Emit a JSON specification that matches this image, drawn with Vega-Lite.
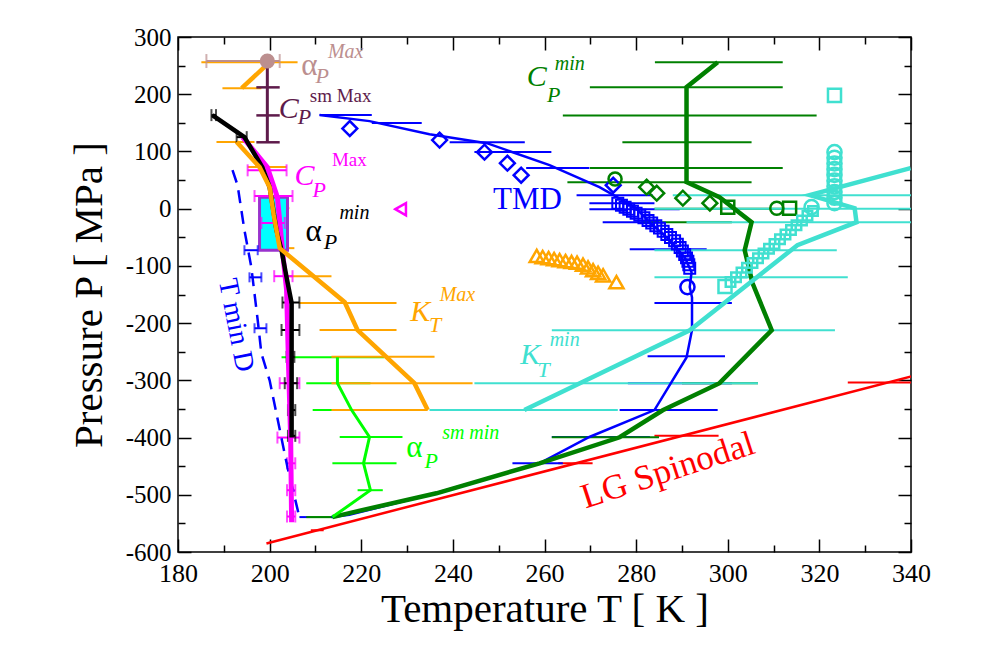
{
"$schema": "https://vega.github.io/schema/vega-lite/v6.json",
"width": 733, "height": 515,
"autosize": {"type": "none"},
"padding": {"left": 178, "top": 37, "right": 83, "bottom": 99},
"background": "white",
"config": {"font": "Liberation Serif", "view": {"stroke": "black", "strokeWidth": 1.5}, "axis": {"grid": false, "domain": false, "labelFont": "Liberation Serif", "titleFont": "Liberation Serif"}, "text": {"font": "Liberation Serif"}},
"resolve": {"axis": {"x": "independent", "y": "independent"}},
"datasets": {
"spin": [{"i":1,"T":199.3,"P":-585},{"i":2,"T":345,"P":-283}],
"spinErr": [{"P":-562,"lo":209.0,"hi":211.8},{"P":-445,"lo":263,"hi":270.5},{"P":-397,"lo":284,"hi":298},{"P":-304,"lo":326.2,"hi":344}],
"tmd": [{"i":1,"T":210.9,"P":163.5},{"i":2,"T":221.8,"P":153},{"i":3,"T":234.9,"P":130},{"i":4,"T":247.4,"P":114.5},{"i":5,"T":261.1,"P":76},{"i":6,"T":272,"P":37.6},{"i":7,"T":277,"P":14.9},{"i":8,"T":279.7,"P":2.6},{"i":9,"T":283,"P":-23.6},{"i":10,"T":287.3,"P":-55},{"i":11,"T":290.6,"P":-85},{"i":12,"T":292.1,"P":-111},{"i":13,"T":291.7,"P":-137},{"i":14,"T":292.2,"P":-155},{"i":15,"T":292.2,"P":-212},{"i":16,"T":291,"P":-260},{"i":17,"T":284,"P":-352},{"i":18,"T":269.8,"P":-399},{"i":19,"T":258.9,"P":-445},{"i":20,"T":236.4,"P":-497},{"i":21,"T":217.4,"P":-535},{"i":22,"T":213.5,"P":-539}],
"tmdErr": [{"P":163.5,"lo":210.9,"hi":222.3},{"P":149.5,"lo":222.3,"hi":233.2},{"P":116,"lo":239.3,"hi":255.7},{"P":99,"lo":244.7,"hi":261.5},{"P":71,"lo":256,"hi":269.8},{"P":23.6,"lo":267,"hi":283.6},{"P":9.6,"lo":269.8,"hi":284},{"P":-1,"lo":269.8,"hi":289.5},{"P":-23.6,"lo":272.7,"hi":285},{"P":-71,"lo":278.6,"hi":295.4},{"P":-165,"lo":284,"hi":300.9},{"P":-258,"lo":282.5,"hi":299.4},{"P":-305,"lo":278.2,"hi":300.9},{"P":-352,"lo":276.4,"hi":297.8},{"P":-399,"lo":261.6,"hi":283},{"P":-445,"lo":253,"hi":264},{"P":-539,"lo":206.5,"hi":208.8}],
"tmdDiam": [{"T":217.5,"P":140},{"T":237.1,"P":119.8},{"T":246.9,"P":98.8},{"T":251.9,"P":79.5},{"T":254.9,"P":58.5},{"T":275,"P":41}],
"tmdSq": [{"T":276.0,"P":9.6},{"T":276.8,"P":6.1},{"T":277.6,"P":2.6},{"T":278.4,"P":-0.9},{"T":279.2,"P":-4.4},{"T":280.0,"P":-7.9},{"T":280.8,"P":-11.4},{"T":281.7,"P":-16.0},{"T":282.6,"P":-20.6},{"T":283.4,"P":-25.2},{"T":284.3,"P":-29.8},{"T":285.1,"P":-34},{"T":285.9,"P":-39.5},{"T":286.7,"P":-45},{"T":287.5,"P":-50.5},{"T":288.4,"P":-56},{"T":289.0,"P":-62},{"T":289.6,"P":-68},{"T":290.1,"P":-74},{"T":290.6,"P":-80},{"T":291.0,"P":-86},{"T":291.3,"P":-92},{"T":291.5,"P":-98},{"T":291.7,"P":-104}],
"tmdCirc": [{"T":291.2,"P":-137}],
"tminD": [{"i":1,"T":191.9,"P":67.3},{"i":2,"T":193.0,"P":41},{"i":3,"T":194.5,"P":-37.6},{"i":4,"T":196,"P":-102},{"i":5,"T":197.4,"P":-195},{"i":6,"T":198.2,"P":-253},{"i":7,"T":200,"P":-300},{"i":8,"T":203.9,"P":-452},{"i":9,"T":206.5,"P":-539}],
"tminDErr": [{"P":-72.6,"lo":194.5,"hi":197.4},{"P":-120,"lo":195.6,"hi":198.2},{"P":-209,"lo":196.7,"hi":199.3}],
"aMin": [{"i":1,"T":187.5,"P":163.5},{"i":2,"T":194.5,"P":125},{"i":3,"T":198.4,"P":72.6},{"i":4,"T":200,"P":37.6},{"i":5,"T":201.5,"P":-37.6},{"i":6,"T":202.6,"P":-72.6},{"i":7,"T":203.7,"P":-120},{"i":8,"T":204.8,"P":-165},{"i":9,"T":204.8,"P":-265},{"i":10,"T":204.8,"P":-400}],
"aMinErr": [{"P":163.5,"lo":187.3,"hi":188.3},{"P":125,"lo":192.8,"hi":195},{"P":-164,"lo":202.8,"hi":206.5},{"P":-212,"lo":202.6,"hi":206.5},{"P":-259,"lo":203.7,"hi":205.4},{"P":-305,"lo":203.3,"hi":206},{"P":-352,"lo":204,"hi":205.6},{"P":-397,"lo":204,"hi":205.6}],
"cpMax": [{"i":1,"T":194.1,"P":125},{"i":2,"T":199.5,"P":72.6},{"i":3,"T":201.7,"P":20},{"i":4,"T":202.8,"P":-72.6},{"i":5,"T":203.7,"P":-142},{"i":6,"T":204.1,"P":-265},{"i":7,"T":204.6,"P":-405},{"i":8,"T":204.8,"P":-548}],
"cpMaxErr": [{"P":67,"lo":195.2,"hi":203.7},{"P":22,"lo":196.7,"hi":205},{"P":-25,"lo":198.2,"hi":203.3},{"P":-118,"lo":201,"hi":205},{"P":-305,"lo":202.2,"hi":206.5},{"P":-400,"lo":201.7,"hi":206.5},{"P":-445,"lo":203.8,"hi":205.6},{"P":-492,"lo":203.8,"hi":205.6},{"P":-538,"lo":203.8,"hi":205.6}],
"cpMaxTri": [{"T":228.6,"P":-0.9}],
"rect": [{"lo":197.8,"hi":203.9,"P":20.1,"P2":-72.6}],
"ktMax": [{"seg":"a","i":1,"T":200,"P":256},{"seg":"a","i":2,"T":193.9,"P":210.5},{"seg":"b","i":3,"T":192.8,"P":116.4},{"seg":"b","i":4,"T":197.8,"P":72.6},{"seg":"b","i":5,"T":200,"P":37.6},{"seg":"b","i":6,"T":200.9,"P":-11.4},{"seg":"b","i":7,"T":202.2,"P":-69},{"seg":"b","i":8,"T":216.4,"P":-163.5},{"seg":"b","i":9,"T":219.2,"P":-212.4},{"seg":"b","i":10,"T":231.6,"P":-305},{"seg":"b","i":11,"T":234.5,"P":-352}],
"ktMaxErr": [{"P":256,"lo":185.1,"hi":206.1},{"P":210.5,"lo":189.7,"hi":198.2},{"P":116.4,"lo":188.4,"hi":196.7},{"P":72.6,"lo":195.2,"hi":203.7},{"P":0.9,"lo":200,"hi":204.3},{"P":-25,"lo":200,"hi":203.7},{"P":-69,"lo":202.2,"hi":205.4},{"P":-118,"lo":203.7,"hi":213.5},{"P":-165,"lo":206.5,"hi":227.7},{"P":-212,"lo":210.9,"hi":227.7},{"P":-259,"lo":213.5,"hi":236},{"P":-305,"lo":213.5,"hi":244.3},{"P":-352,"lo":213.5,"hi":234.5}],
"ktMaxTri": [{"T":258.3,"P":-82.7},{"T":259.6,"P":-84.5},{"T":260.9,"P":-86.3},{"T":262.1,"P":-88.1},{"T":263.3,"P":-89.9},{"T":264.6,"P":-91.5},{"T":265.9,"P":-93.2},{"T":267.1,"P":-94.5},{"T":268.4,"P":-98},{"T":269.5,"P":-102.6},{"T":270.6,"P":-107.5},{"T":271.7,"P":-112},{"T":272.8,"P":-116.5},{"T":275.7,"P":-128.5}],
"aMaxPt": [{"T":199.5,"P":258}],
"aMaxErr": [{"P":258,"lo":186.2,"hi":202.2}],
"cpSm": [{"i":1,"T":199.5,"P":256},{"i":2,"T":199.5,"P":116}],
"cpSmErr": [{"P":212,"lo":197.1,"hi":202.2},{"P":163,"lo":197.1,"hi":202.2},{"P":116,"lo":197.1,"hi":202.2}],
"aSm": [{"i":1,"T":214.8,"P":-259.6},{"i":2,"T":214.8,"P":-305},{"i":3,"T":217.9,"P":-352},{"i":4,"T":221.8,"P":-399},{"i":5,"T":220.5,"P":-445},{"i":6,"T":222,"P":-492},{"i":7,"T":213.7,"P":-539}],
"aSmErr": [{"P":-259.6,"lo":202.6,"hi":225},{"P":-305,"lo":208,"hi":222},{"P":-352,"lo":209.4,"hi":226},{"P":-399,"lo":215.3,"hi":229},{"P":-445,"lo":213.7,"hi":227.7},{"P":-492,"lo":219.2,"hi":224.7},{"P":-539,"lo":208.8,"hi":213.7}],
"cpMin": [{"i":1,"T":297.8,"P":256},{"i":2,"T":291.0,"P":212.4},{"i":3,"T":291.0,"P":46.3},{"i":4,"T":298.2,"P":20.1},{"i":5,"T":305.2,"P":-23.6},{"i":6,"T":303.7,"P":-72.6},{"i":7,"T":305.4,"P":-130},{"i":8,"T":309.6,"P":-212.4},{"i":9,"T":298.2,"P":-305},{"i":10,"T":285.8,"P":-352.3},{"i":11,"T":276.4,"P":-399.5},{"i":12,"T":258.9,"P":-445},{"i":13,"T":236.4,"P":-497.4},{"i":14,"T":217.4,"P":-532},{"i":15,"T":213.7,"P":-539}],
"cpMinErr": [{"P":256,"lo":284.1,"hi":312},{"P":212,"lo":269.9,"hi":312},{"P":163,"lo":264,"hi":319.4},{"P":116,"lo":277,"hi":305.2},{"P":71,"lo":269.9,"hi":312},{"P":46,"lo":265,"hi":305.2},{"P":0,"lo":284,"hi":312},{"P":-23.6,"lo":281.2,"hi":300.9},{"P":-305,"lo":290,"hi":306.6},{"P":-399.5,"lo":261.6,"hi":285},{"P":-539,"lo":208,"hi":214}],
"cpMinDiam": [{"T":282.3,"P":37.6},{"T":284.5,"P":27.1},{"T":290.2,"P":18.4},{"T":296.1,"P":9.6}],
"cpMinSq": [{"T":300,"P":2.6},{"T":313.5,"P":0.9}],
"cpMinCirc": [{"T":275.4,"P":52},{"T":310.7,"P":0.9}],
"ktMin": [{"i":1,"T":255.6,"P":-352},{"i":2,"T":291.7,"P":-212.4},{"i":3,"T":315.2,"P":-63.8},{"i":4,"T":328.1,"P":-23.6},{"i":5,"T":327.7,"P":0.9},{"i":6,"T":317.9,"P":23.6},{"i":7,"T":339.9,"P":70.8}],
"ktMinErr": [{"P":23.6,"lo":288,"hi":345},{"P":0,"lo":284,"hi":345},{"P":-23.6,"lo":291,"hi":345},{"P":-72.6,"lo":284,"hi":323.8},{"P":-120,"lo":284,"hi":326.2},{"P":-212.4,"lo":261.6,"hi":323.4},{"P":-305,"lo":244.7,"hi":306.6},{"P":-352,"lo":234.9,"hi":276}],
"ktMinSqBig": [{"T":323.3,"P":198},{"T":299.4,"P":-136}],
"ktMinSq": [{"T":318.6,"P":-4},{"T":317.4,"P":-12.3},{"T":316.2,"P":-20.5},{"T":315.0,"P":-28.8},{"T":313.8,"P":-37.1},{"T":312.6,"P":-45.3},{"T":311.4,"P":-53.6},{"T":310.2,"P":-61.9},{"T":309.0,"P":-70.1},{"T":307.8,"P":-78.4},{"T":306.6,"P":-86.7},{"T":305.4,"P":-94.9},{"T":304.2,"P":-103.2},{"T":303.0,"P":-111.5},{"T":301.8,"P":-119.7},{"T":300.6,"P":-128}],
"ktMinCirc": [{"T":323.3,"P":98.8},{"T":323.3,"P":89},{"T":323.3,"P":79},{"T":323.3,"P":69},{"T":323.3,"P":59},{"T":323.3,"P":49},{"T":323.3,"P":39},{"T":323.3,"P":29},{"T":323.3,"P":19},{"T":323.3,"P":9.6},{"T":318.3,"P":2.6}],
"labMain": [{"s":"cpSm","t":"C","T":204.2,"P":174},{"s":"cpMax","t":"C","T":207.6,"P":57},{"s":"cpMin","t":"C","T":258.3,"P":230},{"s":"ktMax","t":"K","T":232.9,"P":-181},{"s":"ktMin","t":"K","T":256.9,"P":-256}],
"labAlpha": [{"s":"aMax","t":"α","T":208.7,"P":250},{"s":"aMin","t":"α","T":209.6,"P":-41},{"s":"aSm","t":"α","T":231.6,"P":-418.7}],
"labSub": [{"s":"aMax","t":"P","T":211.5,"P":232},{"s":"cpSm","t":"P","T":207.6,"P":161},{"s":"cpMax","t":"P","T":210.8,"P":32.3},{"s":"aMin","t":"P","T":213.3,"P":-58.6},{"s":"ktMax","t":"T","T":236.1,"P":-203.7},{"s":"ktMin","t":"T","T":259.8,"P":-282},{"s":"aSm","t":"P","T":235.3,"P":-441.4},{"s":"cpMin","t":"P","T":262.0,"P":198.4}],
"labSupI": [{"s":"aMax","t":"Max","T":216.6,"P":273.6},{"s":"aMin","t":"min","T":218.5,"P":-7.9},{"s":"ktMax","t":"Max","T":241.0,"P":-151.2},{"s":"ktMin","t":"min","T":264.4,"P":-229.9},{"s":"aSm","t":"sm min","T":243.9,"P":-392.5},{"s":"cpMin","t":"min","T":265.5,"P":252.6}],
"labSupU": [{"s":"cpSm","t":"sm Max","T":215.5,"P":196.7},{"s":"cpMax","t":"Max","T":217.4,"P":84.8}],
"labTMD": [{"t":"TMD","T":256.3,"P":14.9}],
"labTminD": [{"t":"T min D","T":192.6,"P":-203.7}],
"labSpin": [{"t":"LG Spinodal","T":286.9,"P":-457}]
},
"layer": [
{"data":{"name":"spin"},"mark":{"type":"line","color":"#ff0000","strokeWidth":2.5,"clip":true},
 "encoding":{"x":{"field":"T","type":"quantitative","scale":{"domain":[180,340],"nice":false,"zero":false},
   "axis":{"orient":"bottom","values":[180,200,220,240,260,280,300,320,340],"ticks":false,"labelFont":"Liberation Serif","labelFontSize":26,"labelColor":"#000000","labelPadding":8,"labelFlush":false,"labelOverlap":false,"title":"Temperature T [ K ]","titleFont":"Liberation Serif","titleFontSize":41,"titleFontWeight":"normal","titleColor":"#000000","titlePadding":3}},
  "y":{"field":"P","type":"quantitative","scale":{"domain":[-600,300],"nice":false,"zero":false},
   "axis":{"orient":"left","values":[-600,-500,-400,-300,-200,-100,0,100,200,300],"ticks":false,"labelExpr":"datum.value < 0 ? '-' + abs(datum.value) : '' + datum.value","labelFont":"Liberation Serif","labelFontSize":25,"labelColor":"#000000","labelPadding":7,"labelFlush":false,"labelOverlap":false,"title":"Pressure P [ MPa ]","titleFont":"Liberation Serif","titleFontSize":41,"titleFontWeight":"normal","titleColor":"#000000","titlePadding":15}},
  "order":{"field":"i"}}},
{"data":{"name":"spinErr"},"mark":{"type":"rule","color":"#ff0000","strokeWidth":2,"clip":true},
 "encoding":{"x":{"field":"lo","type":"quantitative","scale":{"domain":[180,340],"nice":false,"zero":false},
   "axis":{"orient":"bottom","values":[180,200,220,240,260,280,300,320,340],"labels":false,"tickSize":-13,"tickWidth":1.5,"tickColor":"#000000","title":null}},
  "x2":{"field":"hi"},
  "y":{"field":"P","type":"quantitative","scale":{"domain":[-600,300],"nice":false,"zero":false},
   "axis":{"orient":"left","values":[-600,-500,-400,-300,-200,-100,0,100,200,300],"labels":false,"tickSize":-13,"tickWidth":1.5,"tickColor":"#000000","title":null}}}},
{"data":{"name":"tmdErr"},"mark":{"type":"rule","color":"#0000ff","strokeWidth":2,"clip":true},
 "encoding":{"x":{"field":"lo","type":"quantitative","scale":{"domain":[180,340],"nice":false,"zero":false},
   "axis":{"orient":"bottom","values":[190,210,230,250,270,290,310,330],"labels":false,"tickSize":-7,"tickWidth":1.5,"tickColor":"#000000","title":null}},
  "x2":{"field":"hi"},
  "y":{"field":"P","type":"quantitative","scale":{"domain":[-600,300],"nice":false,"zero":false},
   "axis":{"orient":"left","values":[-550,-450,-350,-250,-150,-50,50,150,250],"labels":false,"tickSize":-7,"tickWidth":1.5,"tickColor":"#000000","title":null}}}},
{"data":{"name":"aSmErr"},"mark":{"type":"rule","color":"#00ff00","strokeWidth":2,"clip":true},
 "encoding":{"x":{"field":"lo","type":"quantitative","scale":{"domain":[180,340],"nice":false,"zero":false},
   "axis":{"orient":"top","values":[180,200,220,240,260,280,300,320,340],"labels":false,"tickSize":-13,"tickWidth":1.5,"tickColor":"#000000","title":null}},
  "x2":{"field":"hi"},
  "y":{"field":"P","type":"quantitative","scale":{"domain":[-600,300],"nice":false,"zero":false},
   "axis":{"orient":"right","values":[-600,-500,-400,-300,-200,-100,0,100,200,300],"labels":false,"tickSize":-13,"tickWidth":1.5,"tickColor":"#000000","title":null}}}},
{"data":{"name":"ktMaxErr"},"mark":{"type":"rule","color":"#ffa500","strokeWidth":2,"clip":true},
 "encoding":{"x":{"field":"lo","type":"quantitative","scale":{"domain":[180,340],"nice":false,"zero":false},
   "axis":{"orient":"top","values":[190,210,230,250,270,290,310,330],"labels":false,"tickSize":-7,"tickWidth":1.5,"tickColor":"#000000","title":null}},
  "x2":{"field":"hi"},
  "y":{"field":"P","type":"quantitative","scale":{"domain":[-600,300],"nice":false,"zero":false},
   "axis":{"orient":"right","values":[-550,-450,-350,-250,-150,-50,50,150,250],"labels":false,"tickSize":-7,"tickWidth":1.5,"tickColor":"#000000","title":null}}}},
{"data":{"name":"cpMinErr"},"mark":{"type":"rule","color":"#008000","strokeWidth":2,"clip":true},
 "encoding":{"x":{"field":"lo","type":"quantitative","scale":{"domain":[180,340],"nice":false,"zero":false},"axis":null},"x2":{"field":"hi"},
  "y":{"field":"P","type":"quantitative","scale":{"domain":[-600,300],"nice":false,"zero":false},"axis":null}}},
{"data":{"name":"ktMinErr"},"mark":{"type":"rule","color":"#40e0d0","strokeWidth":2,"clip":true},
 "encoding":{"x":{"field":"lo","type":"quantitative","scale":{"domain":[180,340],"nice":false,"zero":false},"axis":null},"x2":{"field":"hi"},
  "y":{"field":"P","type":"quantitative","scale":{"domain":[-600,300],"nice":false,"zero":false},"axis":null}}},
{"data":{"name":"cpSmErr"},"mark":{"type":"rule","color":"#5e1b4b","strokeWidth":2.5},
 "encoding":{"x":{"field":"lo","type":"quantitative","scale":{"domain":[180,340],"nice":false,"zero":false},"axis":null},"x2":{"field":"hi"},
  "y":{"field":"P","type":"quantitative","scale":{"domain":[-600,300],"nice":false,"zero":false},"axis":null}}},
{"data":{"name":"rect"},"mark":{"type":"rect","fill":"#00ffff","stroke":"#9a32cd","strokeWidth":3},
 "encoding":{"x":{"field":"lo","type":"quantitative","scale":{"domain":[180,340],"nice":false,"zero":false},"axis":null},"x2":{"field":"hi"},
  "y":{"field":"P","type":"quantitative","scale":{"domain":[-600,300],"nice":false,"zero":false},"axis":null},"y2":{"field":"P2"}}},
{"data":{"name":"cpMaxErr"},"mark":{"type":"rule","color":"#ff00ff","strokeWidth":2},
 "encoding":{"x":{"field":"lo","type":"quantitative","scale":{"domain":[180,340],"nice":false,"zero":false},"axis":null},"x2":{"field":"hi"},
  "y":{"field":"P","type":"quantitative","scale":{"domain":[-600,300],"nice":false,"zero":false},"axis":null}}},
{"data":{"name":"cpMaxErr"},"transform":[{"fold":["lo","hi"],"as":["k","v"]}],"mark":{"type":"tick","orient":"vertical","color":"#ff00ff","size":12,"thickness":2},
 "encoding":{"x":{"field":"v","type":"quantitative","scale":{"domain":[180,340],"nice":false,"zero":false},"axis":null},
  "y":{"field":"P","type":"quantitative","scale":{"domain":[-600,300],"nice":false,"zero":false},"axis":null}}},
{"data":{"name":"aMinErr"},"mark":{"type":"rule","color":"#000000","strokeWidth":2},
 "encoding":{"x":{"field":"lo","type":"quantitative","scale":{"domain":[180,340],"nice":false,"zero":false},"axis":null},"x2":{"field":"hi"},
  "y":{"field":"P","type":"quantitative","scale":{"domain":[-600,300],"nice":false,"zero":false},"axis":null}}},
{"data":{"name":"aMinErr"},"transform":[{"fold":["lo","hi"],"as":["k","v"]}],"mark":{"type":"tick","orient":"vertical","color":"#000000","size":12,"thickness":2},
 "encoding":{"x":{"field":"v","type":"quantitative","scale":{"domain":[180,340],"nice":false,"zero":false},"axis":null},
  "y":{"field":"P","type":"quantitative","scale":{"domain":[-600,300],"nice":false,"zero":false},"axis":null}}},
{"data":{"name":"tminDErr"},"mark":{"type":"rule","color":"#0000ff","strokeWidth":2},
 "encoding":{"x":{"field":"lo","type":"quantitative","scale":{"domain":[180,340],"nice":false,"zero":false},"axis":null},"x2":{"field":"hi"},
  "y":{"field":"P","type":"quantitative","scale":{"domain":[-600,300],"nice":false,"zero":false},"axis":null}}},
{"data":{"name":"tminDErr"},"transform":[{"fold":["lo","hi"],"as":["k","v"]}],"mark":{"type":"tick","orient":"vertical","color":"#0000ff","size":10,"thickness":2},
 "encoding":{"x":{"field":"v","type":"quantitative","scale":{"domain":[180,340],"nice":false,"zero":false},"axis":null},
  "y":{"field":"P","type":"quantitative","scale":{"domain":[-600,300],"nice":false,"zero":false},"axis":null}}},
{"data":{"name":"aMaxErr"},"mark":{"type":"rule","color":"#bc8f8f","strokeWidth":2},
 "encoding":{"x":{"field":"lo","type":"quantitative","scale":{"domain":[180,340],"nice":false,"zero":false},"axis":null},"x2":{"field":"hi"},
  "y":{"field":"P","type":"quantitative","scale":{"domain":[-600,300],"nice":false,"zero":false},"axis":null}}},
{"data":{"name":"aMaxErr"},"transform":[{"fold":["lo","hi"],"as":["k","v"]}],"mark":{"type":"tick","orient":"vertical","color":"#bc8f8f","size":14,"thickness":2},
 "encoding":{"x":{"field":"v","type":"quantitative","scale":{"domain":[180,340],"nice":false,"zero":false},"axis":null},
  "y":{"field":"P","type":"quantitative","scale":{"domain":[-600,300],"nice":false,"zero":false},"axis":null}}},
{"data":{"name":"tmd"},"mark":{"type":"line","color":"#0000ff","strokeWidth":2.5},
 "encoding":{"x":{"field":"T","type":"quantitative","scale":{"domain":[180,340],"nice":false,"zero":false},"axis":null},
  "y":{"field":"P","type":"quantitative","scale":{"domain":[-600,300],"nice":false,"zero":false},"axis":null},"order":{"field":"i"}}},
{"data":{"name":"tminD"},"mark":{"type":"line","color":"#0000ff","strokeWidth":2.5,"strokeDash":[13,8]},
 "encoding":{"x":{"field":"T","type":"quantitative","scale":{"domain":[180,340],"nice":false,"zero":false},"axis":null},
  "y":{"field":"P","type":"quantitative","scale":{"domain":[-600,300],"nice":false,"zero":false},"axis":null},"order":{"field":"i"}}},
{"data":{"name":"cpMin"},"mark":{"type":"line","color":"#008000","strokeWidth":4.5},
 "encoding":{"x":{"field":"T","type":"quantitative","scale":{"domain":[180,340],"nice":false,"zero":false},"axis":null},
  "y":{"field":"P","type":"quantitative","scale":{"domain":[-600,300],"nice":false,"zero":false},"axis":null},"order":{"field":"i"}}},
{"data":{"name":"ktMin"},"mark":{"type":"line","color":"#40e0d0","strokeWidth":4.5,"clip":true},
 "encoding":{"x":{"field":"T","type":"quantitative","scale":{"domain":[180,340],"nice":false,"zero":false},"axis":null},
  "y":{"field":"P","type":"quantitative","scale":{"domain":[-600,300],"nice":false,"zero":false},"axis":null},"order":{"field":"i"}}},
{"data":{"name":"aSm"},"mark":{"type":"line","color":"#00ff00","strokeWidth":3},
 "encoding":{"x":{"field":"T","type":"quantitative","scale":{"domain":[180,340],"nice":false,"zero":false},"axis":null},
  "y":{"field":"P","type":"quantitative","scale":{"domain":[-600,300],"nice":false,"zero":false},"axis":null},"order":{"field":"i"}}},
{"data":{"name":"cpMax"},"mark":{"type":"line","color":"#ff00ff","strokeWidth":5},
 "encoding":{"x":{"field":"T","type":"quantitative","scale":{"domain":[180,340],"nice":false,"zero":false},"axis":null},
  "y":{"field":"P","type":"quantitative","scale":{"domain":[-600,300],"nice":false,"zero":false},"axis":null},"order":{"field":"i"}}},
{"data":{"name":"aMin"},"mark":{"type":"line","color":"#000000","strokeWidth":4.5},
 "encoding":{"x":{"field":"T","type":"quantitative","scale":{"domain":[180,340],"nice":false,"zero":false},"axis":null},
  "y":{"field":"P","type":"quantitative","scale":{"domain":[-600,300],"nice":false,"zero":false},"axis":null},"order":{"field":"i"}}},
{"data":{"name":"ktMax"},"mark":{"type":"line","color":"#ffa500","strokeWidth":4.5},
 "encoding":{"x":{"field":"T","type":"quantitative","scale":{"domain":[180,340],"nice":false,"zero":false},"axis":null},
  "y":{"field":"P","type":"quantitative","scale":{"domain":[-600,300],"nice":false,"zero":false},"axis":null},"order":{"field":"i"},"detail":{"field":"seg"}}},
{"data":{"name":"cpSm"},"mark":{"type":"line","color":"#5e1b4b","strokeWidth":3},
 "encoding":{"x":{"field":"T","type":"quantitative","scale":{"domain":[180,340],"nice":false,"zero":false},"axis":null},
  "y":{"field":"P","type":"quantitative","scale":{"domain":[-600,300],"nice":false,"zero":false},"axis":null},"order":{"field":"i"}}},
{"data":{"name":"aMaxPt"},"mark":{"type":"point","shape":"circle","filled":true,"color":"#bc8f8f","size":230,"opacity":1},
 "encoding":{"x":{"field":"T","type":"quantitative","scale":{"domain":[180,340],"nice":false,"zero":false},"axis":null},
  "y":{"field":"P","type":"quantitative","scale":{"domain":[-600,300],"nice":false,"zero":false},"axis":null}}},
{"data":{"name":"tmdDiam"},"mark":{"type":"point","shape":"diamond","filled":false,"color":"#0000ff","size":220,"strokeWidth":2.5,"opacity":1},
 "encoding":{"x":{"field":"T","type":"quantitative","scale":{"domain":[180,340],"nice":false,"zero":false},"axis":null},
  "y":{"field":"P","type":"quantitative","scale":{"domain":[-600,300],"nice":false,"zero":false},"axis":null}}},
{"data":{"name":"tmdSq"},"mark":{"type":"point","shape":"square","filled":false,"color":"#0000ff","size":120,"strokeWidth":2,"opacity":1},
 "encoding":{"x":{"field":"T","type":"quantitative","scale":{"domain":[180,340],"nice":false,"zero":false},"axis":null},
  "y":{"field":"P","type":"quantitative","scale":{"domain":[-600,300],"nice":false,"zero":false},"axis":null}}},
{"data":{"name":"tmdCirc"},"mark":{"type":"point","shape":"circle","filled":false,"color":"#0000ff","size":200,"strokeWidth":2.5,"opacity":1},
 "encoding":{"x":{"field":"T","type":"quantitative","scale":{"domain":[180,340],"nice":false,"zero":false},"axis":null},
  "y":{"field":"P","type":"quantitative","scale":{"domain":[-600,300],"nice":false,"zero":false},"axis":null}}},
{"data":{"name":"cpMaxTri"},"mark":{"type":"point","shape":"triangle-left","filled":false,"color":"#ff00ff","size":150,"strokeWidth":2.5,"opacity":1},
 "encoding":{"x":{"field":"T","type":"quantitative","scale":{"domain":[180,340],"nice":false,"zero":false},"axis":null},
  "y":{"field":"P","type":"quantitative","scale":{"domain":[-600,300],"nice":false,"zero":false},"axis":null}}},
{"data":{"name":"ktMaxTri"},"mark":{"type":"point","shape":"triangle-up","filled":false,"color":"#ffa500","size":200,"strokeWidth":2.5,"opacity":1},
 "encoding":{"x":{"field":"T","type":"quantitative","scale":{"domain":[180,340],"nice":false,"zero":false},"axis":null},
  "y":{"field":"P","type":"quantitative","scale":{"domain":[-600,300],"nice":false,"zero":false},"axis":null}}},
{"data":{"name":"cpMinDiam"},"mark":{"type":"point","shape":"diamond","filled":false,"color":"#008000","size":220,"strokeWidth":2.5,"opacity":1},
 "encoding":{"x":{"field":"T","type":"quantitative","scale":{"domain":[180,340],"nice":false,"zero":false},"axis":null},
  "y":{"field":"P","type":"quantitative","scale":{"domain":[-600,300],"nice":false,"zero":false},"axis":null}}},
{"data":{"name":"cpMinSq"},"mark":{"type":"point","shape":"square","filled":false,"color":"#008000","size":170,"strokeWidth":2.5,"opacity":1},
 "encoding":{"x":{"field":"T","type":"quantitative","scale":{"domain":[180,340],"nice":false,"zero":false},"axis":null},
  "y":{"field":"P","type":"quantitative","scale":{"domain":[-600,300],"nice":false,"zero":false},"axis":null}}},
{"data":{"name":"cpMinCirc"},"mark":{"type":"point","shape":"circle","filled":false,"color":"#008000","size":170,"strokeWidth":2.5,"opacity":1},
 "encoding":{"x":{"field":"T","type":"quantitative","scale":{"domain":[180,340],"nice":false,"zero":false},"axis":null},
  "y":{"field":"P","type":"quantitative","scale":{"domain":[-600,300],"nice":false,"zero":false},"axis":null}}},
{"data":{"name":"ktMinSq"},"mark":{"type":"point","shape":"square","filled":false,"color":"#40e0d0","size":90,"strokeWidth":2.5,"opacity":1},
 "encoding":{"x":{"field":"T","type":"quantitative","scale":{"domain":[180,340],"nice":false,"zero":false},"axis":null},
  "y":{"field":"P","type":"quantitative","scale":{"domain":[-600,300],"nice":false,"zero":false},"axis":null}}},
{"data":{"name":"ktMinSqBig"},"mark":{"type":"point","shape":"square","filled":false,"color":"#40e0d0","size":170,"strokeWidth":2.5,"opacity":1},
 "encoding":{"x":{"field":"T","type":"quantitative","scale":{"domain":[180,340],"nice":false,"zero":false},"axis":null},
  "y":{"field":"P","type":"quantitative","scale":{"domain":[-600,300],"nice":false,"zero":false},"axis":null}}},
{"data":{"name":"ktMinCirc"},"mark":{"type":"point","shape":"circle","filled":false,"color":"#40e0d0","size":200,"strokeWidth":2.5,"opacity":1},
 "encoding":{"x":{"field":"T","type":"quantitative","scale":{"domain":[180,340],"nice":false,"zero":false},"axis":null},
  "y":{"field":"P","type":"quantitative","scale":{"domain":[-600,300],"nice":false,"zero":false},"axis":null}}},
{"data":{"name":"labMain"},"mark":{"type":"text","font":"Liberation Serif","fontSize":30,"fontStyle":"italic","align":"center","baseline":"middle"},
 "encoding":{"x":{"field":"T","type":"quantitative","scale":{"domain":[180,340],"nice":false,"zero":false},"axis":null},
  "y":{"field":"P","type":"quantitative","scale":{"domain":[-600,300],"nice":false,"zero":false},"axis":null},"text":{"field":"t"},
  "color":{"field":"s","type":"nominal","legend":null,"scale":{"domain":["aMax","cpSm","cpMax","aMin","ktMax","ktMin","aSm","cpMin"],"range":["#bc8f8f","#5e1b4b","#ff00ff","#000000","#ffa500","#40e0d0","#00ff00","#008000"]}}}},
{"data":{"name":"labAlpha"},"mark":{"type":"text","font":"Liberation Serif","fontSize":31,"align":"center","baseline":"middle"},
 "encoding":{"x":{"field":"T","type":"quantitative","scale":{"domain":[180,340],"nice":false,"zero":false},"axis":null},
  "y":{"field":"P","type":"quantitative","scale":{"domain":[-600,300],"nice":false,"zero":false},"axis":null},"text":{"field":"t"},
  "color":{"field":"s","type":"nominal","legend":null,"scale":{"domain":["aMax","cpSm","cpMax","aMin","ktMax","ktMin","aSm","cpMin"],"range":["#bc8f8f","#5e1b4b","#ff00ff","#000000","#ffa500","#40e0d0","#00ff00","#008000"]}}}},
{"data":{"name":"labSub"},"mark":{"type":"text","font":"Liberation Serif","fontSize":22,"fontStyle":"italic","align":"center","baseline":"middle"},
 "encoding":{"x":{"field":"T","type":"quantitative","scale":{"domain":[180,340],"nice":false,"zero":false},"axis":null},
  "y":{"field":"P","type":"quantitative","scale":{"domain":[-600,300],"nice":false,"zero":false},"axis":null},"text":{"field":"t"},
  "color":{"field":"s","type":"nominal","legend":null,"scale":{"domain":["aMax","cpSm","cpMax","aMin","ktMax","ktMin","aSm","cpMin"],"range":["#bc8f8f","#5e1b4b","#ff00ff","#000000","#ffa500","#40e0d0","#00ff00","#008000"]}}}},
{"data":{"name":"labSupI"},"mark":{"type":"text","font":"Liberation Serif","fontSize":20,"fontStyle":"italic","align":"center","baseline":"middle"},
 "encoding":{"x":{"field":"T","type":"quantitative","scale":{"domain":[180,340],"nice":false,"zero":false},"axis":null},
  "y":{"field":"P","type":"quantitative","scale":{"domain":[-600,300],"nice":false,"zero":false},"axis":null},"text":{"field":"t"},
  "color":{"field":"s","type":"nominal","legend":null,"scale":{"domain":["aMax","cpSm","cpMax","aMin","ktMax","ktMin","aSm","cpMin"],"range":["#bc8f8f","#5e1b4b","#ff00ff","#000000","#ffa500","#40e0d0","#00ff00","#008000"]}}}},
{"data":{"name":"labSupU"},"mark":{"type":"text","font":"Liberation Serif","fontSize":19,"align":"center","baseline":"middle"},
 "encoding":{"x":{"field":"T","type":"quantitative","scale":{"domain":[180,340],"nice":false,"zero":false},"axis":null},
  "y":{"field":"P","type":"quantitative","scale":{"domain":[-600,300],"nice":false,"zero":false},"axis":null},"text":{"field":"t"},
  "color":{"field":"s","type":"nominal","legend":null,"scale":{"domain":["aMax","cpSm","cpMax","aMin","ktMax","ktMin","aSm","cpMin"],"range":["#bc8f8f","#5e1b4b","#ff00ff","#000000","#ffa500","#40e0d0","#00ff00","#008000"]}}}},
{"data":{"name":"labTMD"},"mark":{"type":"text","font":"Liberation Serif","fontSize":31,"color":"#0000ff","align":"center","baseline":"middle"},
 "encoding":{"x":{"field":"T","type":"quantitative","scale":{"domain":[180,340],"nice":false,"zero":false},"axis":null},
  "y":{"field":"P","type":"quantitative","scale":{"domain":[-600,300],"nice":false,"zero":false},"axis":null},"text":{"field":"t"}}},
{"data":{"name":"labTminD"},"mark":{"type":"text","font":"Liberation Serif","fontSize":28,"color":"#0000ff","align":"center","baseline":"middle","angle":79},
 "encoding":{"x":{"field":"T","type":"quantitative","scale":{"domain":[180,340],"nice":false,"zero":false},"axis":null},
  "y":{"field":"P","type":"quantitative","scale":{"domain":[-600,300],"nice":false,"zero":false},"axis":null},"text":{"field":"t"}}},
{"data":{"name":"labSpin"},"mark":{"type":"text","font":"Liberation Serif","fontSize":35,"color":"#ff0000","align":"center","baseline":"middle","angle":-18},
 "encoding":{"x":{"field":"T","type":"quantitative","scale":{"domain":[180,340],"nice":false,"zero":false},"axis":null},
  "y":{"field":"P","type":"quantitative","scale":{"domain":[-600,300],"nice":false,"zero":false},"axis":null},"text":{"field":"t"}}}
]
}
